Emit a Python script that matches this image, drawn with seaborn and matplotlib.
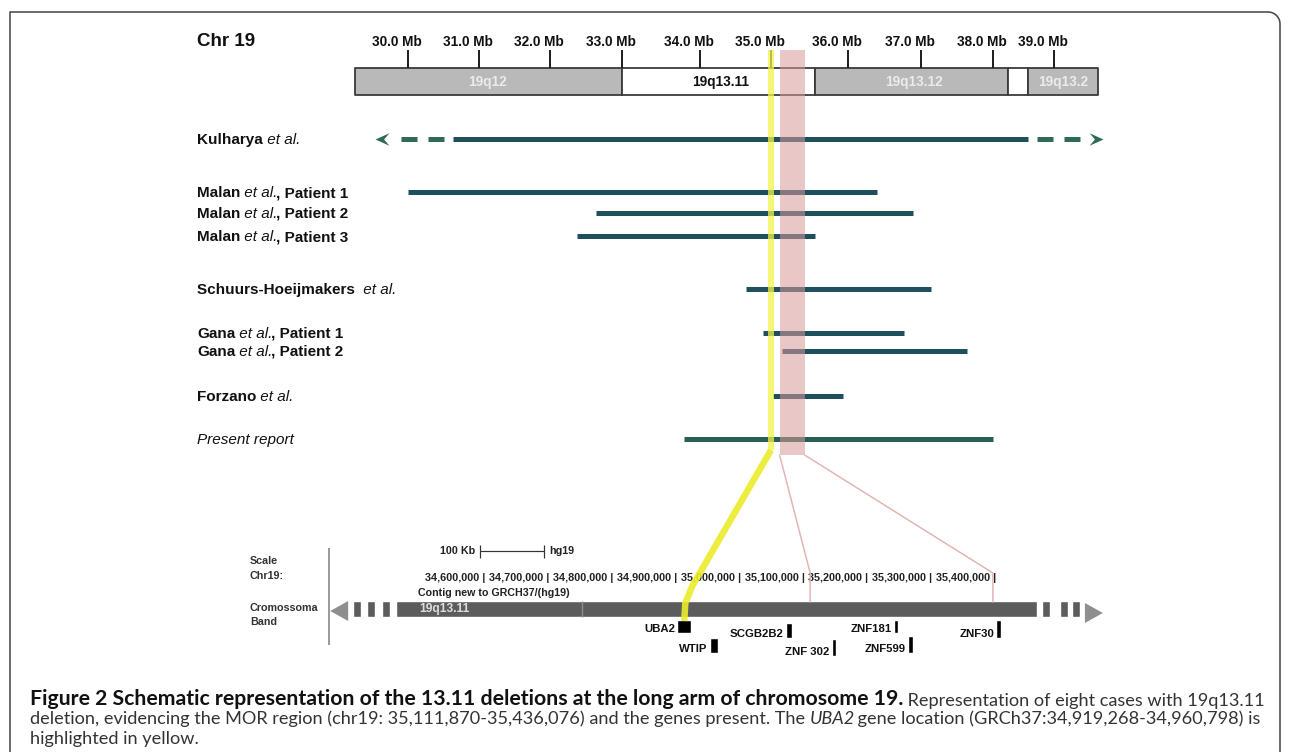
import numpy as np
import pandas as pd
import seaborn as sns
import matplotlib.pyplot as plt
from matplotlib import font_manager
from matplotlib.path import Path

# --- upper panel: chromosome 19 ideogram and deletions (Mb) ---
mb_ticks = [30, 31, 32, 33, 34, 35, 36, 37, 38, 39]
band_names = ['19q12', '19q13.11', '19q13.12', '', '19q13.2']
band_start = [29.25, 33.0, 35.57, 38.25, 38.57]
band_end = [33.0, 35.57, 38.25, 38.57, 39.72]
band_stain = ['gpos', 'gneg', 'gpos', 'gneg', 'gpos']

cases = ['Kulharya', 'Malan P1', 'Malan P2', 'Malan P3', 'Schuurs-Hoeijmakers',
         'Gana P1', 'Gana P2', 'Forzano', 'Present report']
del_start = [30.63, 30.00, 32.64, 32.38, 34.65, 34.89, 35.14, 35.03, 33.79]
del_end = [38.57, 36.40, 36.89, 35.57, 37.14, 36.77, 37.64, 35.94, 38.00]
kul_dashed = [29.89, 39.44]     # Kulharya deletion continues beyond the view
kul_tips = [29.54, 39.80]
uba2_mb = 35.0
mor_mb = [35.111870, 35.436076]

# --- lower panel: browser view (bp) ---
pos_ticks = [34600000, 34700000, 34800000, 34900000, 35000000,
             35100000, 35200000, 35300000, 35400000]
scale_bar = [34595000, 34695000]
band_bp = [34464000, 35467000]
band_split = 34755000
left_blocks = [34397000, 34418000, 34442000]
right_blocks = [35475000, 35503000, 35522000]
block_len = 12500
arrow_bp = [34361000, 34389000, 35542000, 35570000]
genes = ['UBA2', 'WTIP', 'SCGB2B2', 'ZNF 302', 'ZNF181', 'ZNF599', 'ZNF30']
gene_start = [34904000, 34955000, 35074000, 35146000, 35243000, 35265000, 35403000]
gene_end = [34926000, 34968000, 35084000, 35152000, 35249000, 35273000, 35411000]
mor_bp = [35112000, 35398000]

# row labels (text, style)
case_labels = [
    [('Kulharya', 'bold'), (' et al.', 'italic')],
    [('Malan', 'bold'), (' et al.', 'italic'), (', Patient 1', 'bold')],
    [('Malan', 'bold'), (' et al.', 'italic'), (', Patient 2', 'bold')],
    [('Malan', 'bold'), (' et al.', 'italic'), (', Patient 3', 'bold')],
    [('Schuurs-Hoeijmakers ', 'bold'), (' et al.', 'italic')],
    [('Gana', 'bold'), (' et al.', 'italic'), (', Patient 1', 'bold')],
    [('Gana', 'bold'), (' et al.', 'italic'), (', Patient 2', 'bold')],
    [('Forzano', 'bold'), (' et al.', 'italic')],
    [('Present report', 'italic')],
]
caption = [
    [('Figure 2 Schematic representation of the 13.11 deletions at the long arm of chromosome 19.', 'bold'),
     (' Representation of eight cases with 19q13.11', 'normal')],
    [('deletion, evidencing the MOR region (chr19: 35,111,870-35,436,076) and the genes present. The ', 'normal'),
     ('UBA2', 'italic'), (' gene location (GRCh37:34,919,268-34,960,798) is', 'normal')],
    [('highlighted in yellow.', 'normal')],
]

# layout (pixels)
row_y = [139, 192, 213, 236, 289, 333, 351, 396, 439]
gene_top = [620, 638, 623, 639, 620, 636, 620]
gene_h = [13, 15, 15, 17, 13, 17, 18]

sns.set_theme(style='white')
plt.rcParams['font.family'] = ['Liberation Sans', 'DejaVu Sans']
plt.rcParams['lines.scale_dashes'] = False

installed = {f.name for f in font_manager.fontManager.ttflist}
if 'Liberation Sans Narrow' in installed:
    NARROW, NK = ['Liberation Sans Narrow', 'DejaVu Sans'], 1.0
else:
    NARROW, NK = ['Liberation Sans', 'DejaVu Sans'], 0.82
SANS = ['Liberation Sans', 'DejaVu Sans']
CAP = ['Lato', 'DejaVu Sans']

TEAL = '#1e4f5d'
GREEN = '#285f52'
DASH_GREEN = '#2f6b57'
W, H = 1290, 752
PX = 0.72  # points per pixel at 100 dpi

fig = plt.figure(figsize=(W / 100, H / 100), dpi=100, facecolor='white')


def pixel_axes(z):
    ax = fig.add_axes([0, 0, 1, 1], zorder=z)
    ax.set_ylim(H, 0)
    ax.axis('off')
    return ax


def rich_line(ax, x, y, pieces, size, family, colors=None):
    texts, prev, prev_style = [], None, ''
    for s, style in pieces:
        kw = dict(fontsize=size, family=family,
                  fontweight='bold' if 'bold' in style else 'normal',
                  fontstyle='italic' if 'italic' in style else 'normal',
                  color=(colors or {}).get(style, '#111111'))
        if prev is None:
            t = ax.text(x, y, s, ha='left', va='center', **kw)
        else:
            dx = -1.2 if 'italic' in prev_style else 0
            t = ax.annotate(s, xy=(1, 0), xycoords=prev, xytext=(dx, 0),
                            textcoords='offset points', ha='left', va='bottom', **kw)
        texts.append(t)
        prev, prev_style = t, style
    return texts


# piecewise Mb -> pixel scale of the drawn ideogram
MB_A = np.array(mb_ticks, float)
PX_A = np.array([408, 479, 550, 622, 700, 771, 848, 921, 993, 1054], float)


def _piecewise(x, xs, ys):
    x = np.asarray(x, float)
    y = np.interp(x, xs, ys)
    y = np.where(x < xs[0], ys[0] + (x - xs[0]) * (ys[1] - ys[0]) / (xs[1] - xs[0]), y)
    y = np.where(x > xs[-1], ys[-1] + (x - xs[-1]) * (ys[-1] - ys[-2]) / (xs[-1] - xs[-2]), y)
    return y


def mb_to_px(x):
    return _piecewise(x, MB_A, PX_A)


def px_to_mb(p):
    return _piecewise(p, PX_A, MB_A)


ax_top = pixel_axes(2)
ax_top.set_xscale('function', functions=(mb_to_px, px_to_mb))

# ideogram
stain_color = {'gpos': '#b9b9b9', 'gneg': 'white'}
for s, e, st, name in zip(band_start, band_end, band_stain, band_names):
    ax_top.broken_barh([(s, e - s)], (68, 27), facecolors=stain_color[st],
                       edgecolors='#3a3a3a', linewidth=1.3, zorder=1)
    if name:
        ax_top.text((s + e) / 2, 82, name, ha='center', va='center',
                    color='#111111' if st == 'gneg' else '#ebebeb',
                    fontsize=12 * NK, family=NARROW, fontweight='bold', zorder=3)
ax_top.vlines(mb_ticks, 50, 68, colors='#222222', lw=2 * PX, zorder=1)
for m in mb_ticks:
    ax_top.annotate(f'{m:.1f} Mb', (m, 42), xytext=(10, 0), textcoords='offset points',
                    ha='right', va='center', fontsize=12 * NK, family=NARROW,
                    fontweight='bold', color='#111111')

# deletions
df = pd.DataFrame({'case': cases, 'start': del_start, 'end': del_end, 'y': row_y,
                   'kind': ['published'] * 8 + ['present']})
seg = df.melt(id_vars=['case', 'y', 'kind'], value_vars=['start', 'end'], value_name='mb')
sns.lineplot(data=seg, x='mb', y='y', hue='kind', units='case', estimator=None,
             palette={'published': TEAL, 'present': GREEN}, linewidth=5 * PX,
             solid_capstyle='butt', legend=False, ax=ax_top, zorder=2)

for solid, dash_end, tip, sgn in [(del_start[0], kul_dashed[0], kul_tips[0], 1),
                                  (del_end[0], kul_dashed[1], kul_tips[1], -1)]:
    ax_top.plot([solid, dash_end], [row_y[0]] * 2, color=DASH_GREEN, lw=5 * PX,
                ls=(18 * PX, (16 * PX, 11 * PX)), dash_capstyle='butt', zorder=2)
    head = Path([(0, 0), (sgn, 0.45), (sgn * 0.62, 0), (sgn, -0.45), (0, 0)],
                [Path.MOVETO] + [Path.LINETO] * 3 + [Path.CLOSEPOLY])
    ax_top.plot([tip], [row_y[0]], marker=head, ms=20, mfc=DASH_GREEN, mec='none',
                ls='none', zorder=2)

# MOR region
ax_top.fill_between(mor_mb, 50, 455, color='#d99a9a', alpha=0.55, lw=0, zorder=4)
ax_top.set_xlim(px_to_mb(0), px_to_mb(W))
ax_top.set_ylim(H, 0)
ax_top.axis('off')

# --- lower panel ---
BP_REF, PX_REF, PX_PER_BP = 34600000, 483, 63.9 / 100000
ax_low = pixel_axes(2)
ax_low.set_xlim(BP_REF - PX_REF / PX_PER_BP, BP_REF + (W - PX_REF) / PX_PER_BP)

BAND_GRAY = '#5c5c5c'
ax_low.broken_barh([(band_bp[0], band_bp[1] - band_bp[0])], (601, 16), facecolors=BAND_GRAY)
ax_low.broken_barh([(b, block_len) for b in left_blocks + right_blocks], (601, 16),
                   facecolors=BAND_GRAY)
ax_low.vlines(band_split, 601, 617, colors='#8c8c8c', lw=1)
ax_low.fill([arrow_bp[0], arrow_bp[1], arrow_bp[1]], [611, 601, 621], color='#8e8e8e', lw=0)
ax_low.fill([arrow_bp[3], arrow_bp[2], arrow_bp[2]], [613, 603, 623], color='#8e8e8e', lw=0)
ax_low.annotate('19q13.11', (band_bp[0], 609), xytext=(17, 0), textcoords='offset points',
                ha='left', va='center', fontsize=10.5 * NK, family=NARROW,
                fontweight='bold', color='#dddddd')

for t in pos_ticks:
    ax_low.annotate(f'{t:,} |', (t, 578), xytext=(1.5, 0), textcoords='offset points',
                    ha='right', va='center', fontsize=9.6 * NK, family=NARROW,
                    fontweight='bold', color='#222222')

ax_low.hlines(551, scale_bar[0], scale_bar[1], colors='#333333', lw=1.2 * PX)
ax_low.vlines(scale_bar, 545, 558, colors='#333333', lw=1.2 * PX)
ax_low.annotate('100 Kb', (scale_bar[0], 551), xytext=(-3, 0), textcoords='offset points',
                ha='right', va='center', fontsize=9.5 * NK, family=NARROW,
                fontweight='bold', color='#222222')
ax_low.annotate('hg19', (scale_bar[1], 551), xytext=(4, 0), textcoords='offset points',
                ha='left', va='center', fontsize=9.5 * NK, family=NARROW,
                fontweight='bold', color='#222222')

for g, s, e, top, h in zip(genes, gene_start, gene_end, gene_top, gene_h):
    ax_low.broken_barh([(s, e - s)], (top, h), facecolors='black')
    ax_low.annotate(g, (s, top + h), xytext=(-1.5, 3), textcoords='offset points',
                    ha='right', va='center', fontsize=10 * NK, family=NARROW,
                    fontweight='bold', color='#111111')

# --- overlay: texts, connectors, frame ---
ax_ov = pixel_axes(5)
ax_ov.set_xlim(0, W)


def to_ov(ax, x, y):
    return ax_ov.transData.inverted().transform(ax.transData.transform((x, y)))


ax_ov.text(197, 42, 'Chr 19', fontsize=13.5, family=SANS, fontweight='bold',
           ha='left', va='center', color='#111111')
for y, pieces in zip(row_y, case_labels):
    rich_line(ax_ov, 197, y + 1, pieces, 11, SANS)

for txt, y in [('Scale', 561), ('Chr19:', 576), ('Cromossoma', 608), ('Band', 622)]:
    ax_ov.text(250, y, txt, fontsize=9.5 * NK, family=NARROW, fontweight='bold',
               ha='left', va='center', color='#333333')
ax_ov.text(418, 593, 'Contig new to GRCH37/(hg19)', fontsize=9.3 * NK, family=NARROW,
           fontweight='bold', ha='left', va='center', color='#222222')
ax_ov.vlines(329, 548, 645, colors='#7a7a7a', lw=1.5 * PX)

x_yel = to_ov(ax_top, uba2_mb, 0)[0]
x_uba = to_ov(ax_low, (gene_start[0] + gene_end[0]) / 2, 0)[0]
ax_ov.plot([x_yel, x_yel], [50, 450], color='#f2f24a', alpha=0.75, lw=6 * PX,
           solid_capstyle='butt')
ax_ov.plot([x_yel, x_uba + 8, x_uba + 1, x_uba], [450, 586, 603, 621],
           color='#ecec2a', alpha=0.9, lw=6.5 * PX, solid_joinstyle='round',
           solid_capstyle='butt')
for m, b in zip(mor_mb, mor_bp):
    x0 = to_ov(ax_top, m, 0)[0]
    x1 = to_ov(ax_low, b, 0)[0]
    ax_ov.plot([x0, x1, x1], [455, 573, 602], color='#e2b4b4', lw=1.5 * PX)

r = 12
theta = np.linspace(np.pi / 2, 0, 20)
fx = [10, 10] + list(1280 - r + r * np.cos(theta)) + [1280]
fy = [H, 12] + list(12 + r - r * np.sin(theta)) + [H]
ax_ov.plot(fx, fy, color='#4a4a4a', lw=1.6 * PX)

# caption: fit the regular text to line 2, then the bold lead to line 1
CAP_X, CAP_R1, CAP_R2 = 30, 1268, 1262
cap_cols = {'bold': '#111111', 'normal': '#333333', 'italic': '#333333'}
cap_texts = [rich_line(ax_ov, CAP_X, y, line, 11, CAP, cap_cols)
             for y, line in zip([699, 719, 739], caption)]
renderer = fig.canvas.get_renderer()


def extent(t):
    return t.get_window_extent(renderer)


k = (CAP_R2 - CAP_X) / (extent(cap_texts[1][-1]).x1 - extent(cap_texts[1][0]).x0)
for line in cap_texts:
    for t in line:
        t.set_fontsize(11 * k)
bold, reg = cap_texts[0]
w_reg = extent(reg).width
w_bold = extent(bold).width
bold.set_fontsize(11 * k * (CAP_R1 - CAP_X - w_reg) / w_bold)

fig.savefig('out.png', dpi=100, facecolor='white')
